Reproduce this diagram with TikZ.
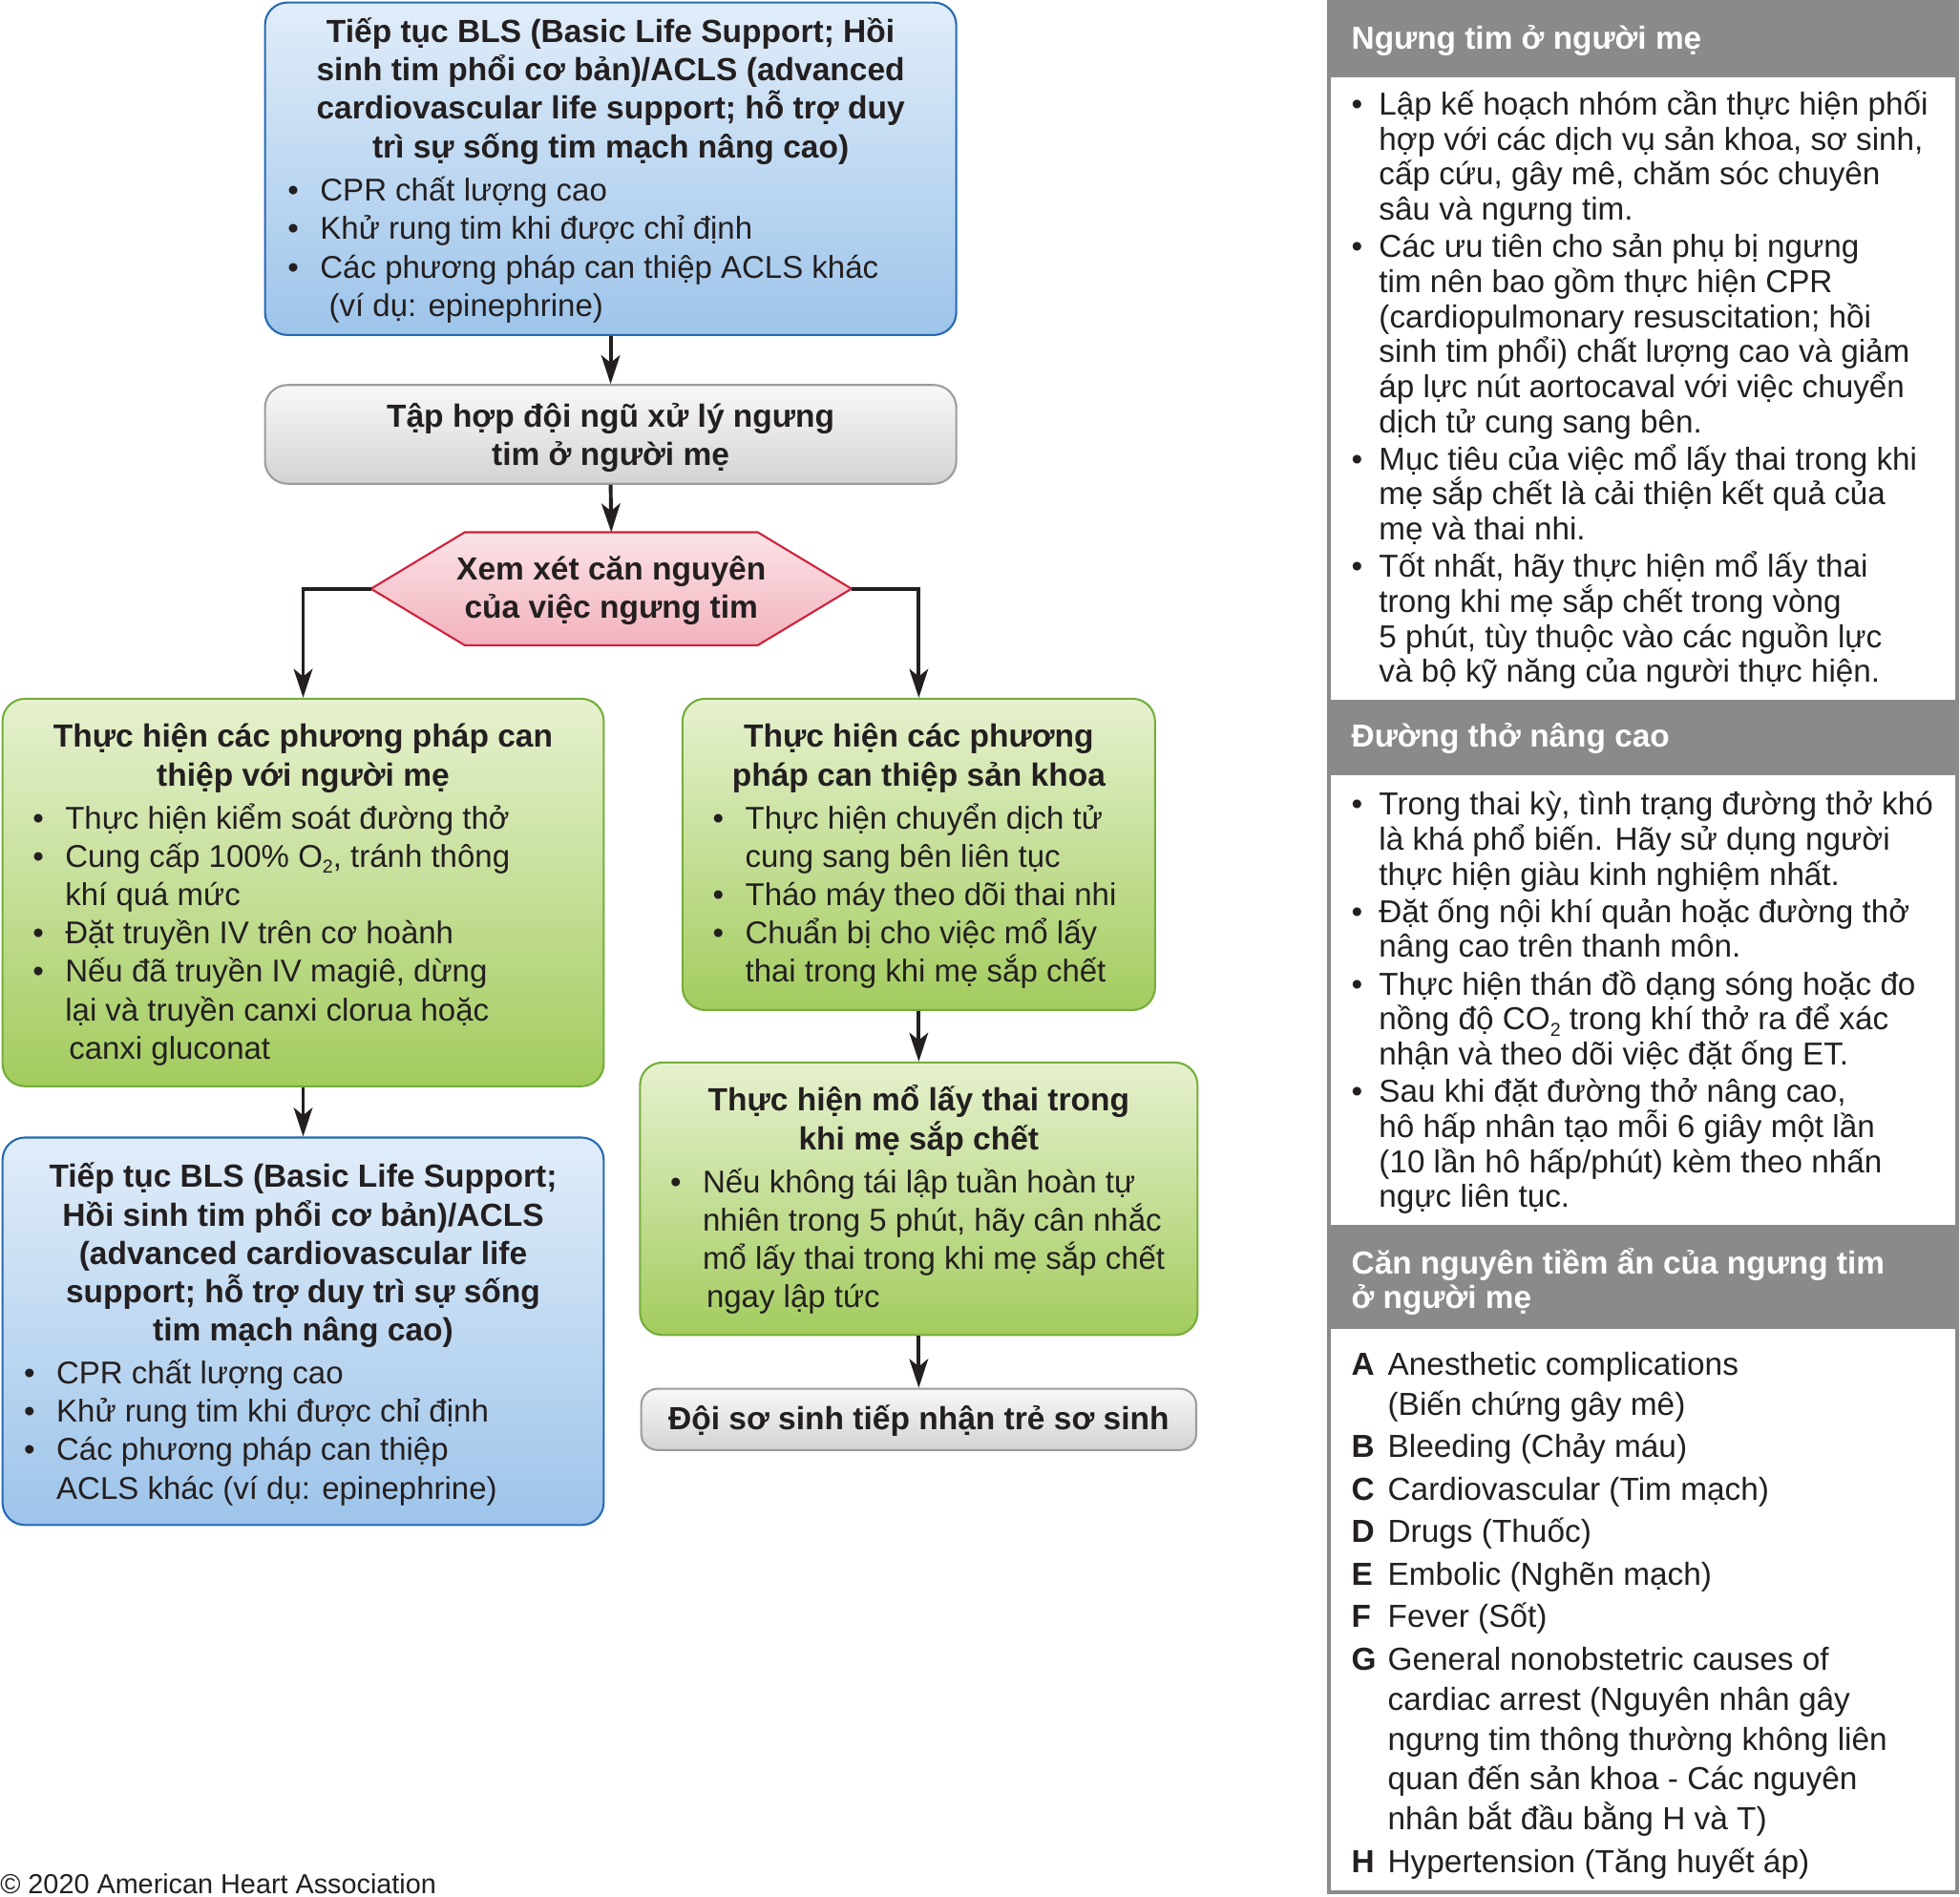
\documentclass[tikz,border=0pt]{standalone}
\usepackage{fontspec}
\setmainfont{Liberation Sans}
\usetikzlibrary{arrows.meta,backgrounds}

\definecolor{inkk}{HTML}{231F20}
\definecolor{bluetop}{HTML}{E1EDF9}
\definecolor{bluebot}{HTML}{9DC4EA}
\definecolor{blueedge}{HTML}{2569B3}
\definecolor{greentop}{HTML}{E6F1CF}
\definecolor{greenbot}{HTML}{A3CC5E}
\definecolor{greenedge}{HTML}{74AD3C}
\definecolor{graytop}{HTML}{F8F8F8}
\definecolor{graybot}{HTML}{D3D3D3}
\definecolor{grayedge}{HTML}{9C9C9C}
\definecolor{pinktop}{HTML}{FBE3E7}
\definecolor{pinkbot}{HTML}{F2B2BD}
\definecolor{pinkedge}{HTML}{D1213B}
\definecolor{headgray}{HTML}{8A8A8A}

\newcommand{\blt}{\makebox[26pt][l]{•}}
\newcommand{\bsp}{\hspace*{26pt}}
\newcommand{\rblt}{\makebox[22pt][l]{•}}
\newcommand{\rsp}{\hspace*{22pt}}
\newcommand{\lowtwo}{\raisebox{-0.35ex}{\fontsize{15}{15}\selectfont 2}}
\newcommand{\cause}[1]{\makebox[29pt][l]{\bfseries #1}}
\newcommand{\csp}{\hspace*{29pt}}

\tikzset{
  box/.style={draw, rounded corners=18pt, line width=1.6pt, inner sep=0pt},
  bluebox/.style={box, draw=blueedge, top color=bluetop, bottom color=bluebot},
  greenbox/.style={box, draw=greenedge, top color=greentop, bottom color=greenbot},
  graybox/.style={box, draw=grayedge, top color=graytop, bottom color=graybot},
  head/.style={font=\fontsize{25.6}{30.7}\selectfont\bfseries, align=center, anchor=base, text=inkk, inner sep=0pt},
  body/.style={font=\fontsize{25.2}{30.7}\selectfont, align=left, anchor=base west, text=inkk, inner sep=0pt},
  flow/.style={line width=3pt, draw=inkk, -{Stealth[length=23pt,width=15pt,inset=6pt]}},
  headbar/.style={fill=headgray, inner sep=0pt, minimum width=505pt},
  headtext/.style={font=\fontsize{25.5}{28}\selectfont\bfseries, text=white, align=left, anchor=base west, inner sep=0pt},
  note/.style={font=\fontsize{25.4}{28}\selectfont, text=inkk, align=left, anchor=base west, inner sep=0pt},
}

\begin{document}
\begin{tikzpicture}[x=1pt,y=-1pt]
  \useasboundingbox (0,0) rectangle (1568,1517);

  % flow chart boxes
  \node[bluebox, minimum width=553pt, minimum height=266pt] (bls) at (488.5,135) {};
  \node[graybox, minimum width=553pt, minimum height=79pt] (team) at (488.5,347.5) {};
  \node[greenbox, minimum width=481pt, minimum height=310pt] (mom) at (242.5,714) {};
  \node[bluebox, minimum width=481pt, minimum height=310pt] (bls2) at (242.5,1065) {};
  \node[greenbox, minimum width=378pt, minimum height=249pt] (obs) at (735,683.5) {};
  \node[greenbox, minimum width=446pt, minimum height=218pt] (csec) at (735,959) {};
  \node[graybox, rounded corners=13pt, minimum width=444pt, minimum height=49pt] (neo) at (735,1135.5) {};

  \node[minimum width=384pt, minimum height=90pt, inner sep=0pt] (cause) at (489,471) {};
  \draw[line width=1.6pt, draw=pinkedge, top color=pinktop, bottom color=pinkbot]
    (cause.west) -- ([xshift=75pt]cause.north west) -- ([xshift=-75pt]cause.north east)
    -- (cause.east) -- ([xshift=-75pt]cause.south east) -- ([xshift=75pt]cause.south west) -- cycle;

  % texts in the boxes (anchored at the baseline of their last line)
  \node[head] (blsT) at (488.5,126.1) {Tiếp tục BLS (Basic Life Support; Hồi\\sinh tim phổi cơ bản)/ACLS (advanced\\cardiovascular life support; hỗ trợ duy\\trì sự sống tim mạch nâng cao)};
  \node[body] (blsB) at (230,253.1) {\blt CPR chất lượng cao\\\blt Khử rung tim khi được chỉ định\\\blt Các phương pháp can thiệp ACLS khác\\\bsp\hspace*{7pt}(ví dụ: epinephrine)};

  \node[head] (teamT) at (488.5,372.7) {Tập hợp đội ngũ xử lý ngưng\\tim ở người mẹ};
  \node[head] (causeT) at (489,494.7) {Xem xét căn nguyên\\của việc ngưng tim};

  \node[head] (momT) at (242.5,628.7) {Thực hiện các phương pháp can\\thiệp với người mẹ};
  \node[body] (momB) at (26,847.2) {\blt Thực hiện kiểm soát đường thở\\\blt Cung cấp 100\% O\lowtwo, tránh thông\\\bsp khí quá mức\\\blt Đặt truyền IV trên cơ hoành\\\blt Nếu đã truyền IV magiê, dừng\\\bsp lại và truyền canxi clorua hoặc\\\bsp\hspace*{3pt}canxi gluconat};

  \node[head] (bls2T) at (242.5,1072.8) {Tiếp tục BLS (Basic Life Support;\\Hồi sinh tim phổi cơ bản)/ACLS\\(advanced cardiovascular life\\support; hỗ trợ duy trì sự sống\\tim mạch nâng cao)};
  \node[body] (bls2B) at (19,1199.1) {\blt CPR chất lượng cao\\\blt Khử rung tim khi được chỉ định\\\blt Các phương pháp can thiệp\\\bsp ACLS khác (ví dụ: epinephrine)};

  \node[head] (obsT) at (735,628.7) {Thực hiện các phương\\pháp can thiệp sản khoa};
  \node[body] (obsB) at (570,785.8) {\blt Thực hiện chuyển dịch tử\\\bsp cung sang bên liên tục\\\blt Tháo máy theo dõi thai nhi\\\blt Chuẩn bị cho việc mổ lấy\\\bsp thai trong khi mẹ sắp chết};

  \node[head] (csecT) at (735,919.7) {Thực hiện mổ lấy thai trong\\khi mẹ sắp chết};
  \node[body] (csecB) at (536,1046.1) {\blt Nếu không tái lập tuần hoàn tự\\\bsp nhiên trong 5 phút, hãy cân nhắc\\\bsp mổ lấy thai trong khi mẹ sắp chết\\\bsp\hspace*{3pt}ngay lập tức};

  \node[head] (neoT) at (735,1144) {Đội sơ sinh tiếp nhận trẻ sơ sinh};

  % connectors
  \draw[flow] (bls.south) -- (team.north);
  \draw[flow] (team.south) -- (cause.north);
  \draw[flow] (cause.west) -| (mom.north);
  \draw[flow] (cause.east) -| (obs.north);
  \draw[flow] (mom.south) -- (bls2.north);
  \draw[flow] (obs.south) -- (csec.north);
  \draw[flow] (csec.south) -- (neo.north);

  \node[font=\fontsize{22}{24}\selectfont, text=inkk, anchor=base west, inner sep=0pt] (copy) at (0,1515) {© 2020 American Heart Association};

  % side panel
  \node[draw=headgray, line width=3pt, minimum width=503pt, minimum height=1513pt, inner sep=0pt] (panel) at (1314.5,757.5) {};
  \node[headbar, minimum height=62pt] (hd1) at (1314.5,31) {};
  \node[headbar, minimum height=60pt] (hd2) at (1314.5,590) {};
  \node[headbar, minimum height=83pt] (hd3) at (1314.5,1021.5) {};

  \node[headtext] (hd1T) at (1081,39) {Ngưng tim ở người mẹ};
  \node[headtext] (hd2T) at (1081,598) {Đường thở nâng cao};
  \node[headtext] (hd3T) at (1081,1047) {Căn nguyên tiềm ẩn của ngưng tim\\ở người mẹ};

  \node[note] (nt1) at (1081,546) {\rblt Lập kế hoạch nhóm cần thực hiện phối\\\rsp hợp với các dịch vụ sản khoa, sơ sinh,\\\rsp cấp cứu, gây mê, chăm sóc chuyên\\\rsp sâu và ngưng tim.\\[2pt]
    \rblt Các ưu tiên cho sản phụ bị ngưng\\\rsp tim nên bao gồm thực hiện CPR\\\rsp (cardiopulmonary resuscitation; hồi\\\rsp sinh tim phổi) chất lượng cao và giảm\\\rsp áp lực nút aortocaval với việc chuyển\\\rsp dịch tử cung sang bên.\\[2pt]
    \rblt Mục tiêu của việc mổ lấy thai trong khi\\\rsp mẹ sắp chết là cải thiện kết quả của\\\rsp mẹ và thai nhi.\\[2pt]
    \rblt Tốt nhất, hãy thực hiện mổ lấy thai\\\rsp trong khi mẹ sắp chết trong vòng\\\rsp 5 phút, tùy thuộc vào các nguồn lực\\\rsp và bộ kỹ năng của người thực hiện.};

  \node[note] (nt2) at (1081,966) {\rblt Trong thai kỳ, tình trạng đường thở khó\\\rsp là khá phổ biến. Hãy sử dụng người\\\rsp thực hiện giàu kinh nghiệm nhất.\\[2pt]
    \rblt Đặt ống nội khí quản hoặc đường thở\\\rsp nâng cao trên thanh môn.\\[2pt]
    \rblt Thực hiện thán đồ dạng sóng hoặc đo\\\rsp nồng độ CO\lowtwo{} trong khí thở ra để xác\\\rsp nhận và theo dõi việc đặt ống ET.\\[2pt]
    \rblt Sau khi đặt đường thở nâng cao,\\\rsp hô hấp nhân tạo mỗi 6 giây một lần\\\rsp (10 lần hô hấp/phút) kèm theo nhấn\\\rsp ngực liên tục.};

  \node[note, font=\fontsize{25.5}{32}\selectfont] (nt3) at (1081,1498) {\cause{A}Anesthetic complications\\\csp (Biến chứng gây mê)\\[2pt]
    \cause{B}Bleeding (Chảy máu)\\[2pt]
    \cause{C}Cardiovascular (Tim mạch)\\[2pt]
    \cause{D}Drugs (Thuốc)\\[2pt]
    \cause{E}Embolic (Nghẽn mạch)\\[2pt]
    \cause{F}Fever (Sốt)\\[2pt]
    \cause{G}General nonobstetric causes of\\\csp cardiac arrest (Nguyên nhân gây\\\csp ngưng tim thông thường không liên\\\csp quan đến sản khoa - Các nguyên\\\csp nhân bắt đầu bằng H và T)\\[2pt]
    \cause{H}Hypertension (Tăng huyết áp)};
\end{tikzpicture}
\end{document}
